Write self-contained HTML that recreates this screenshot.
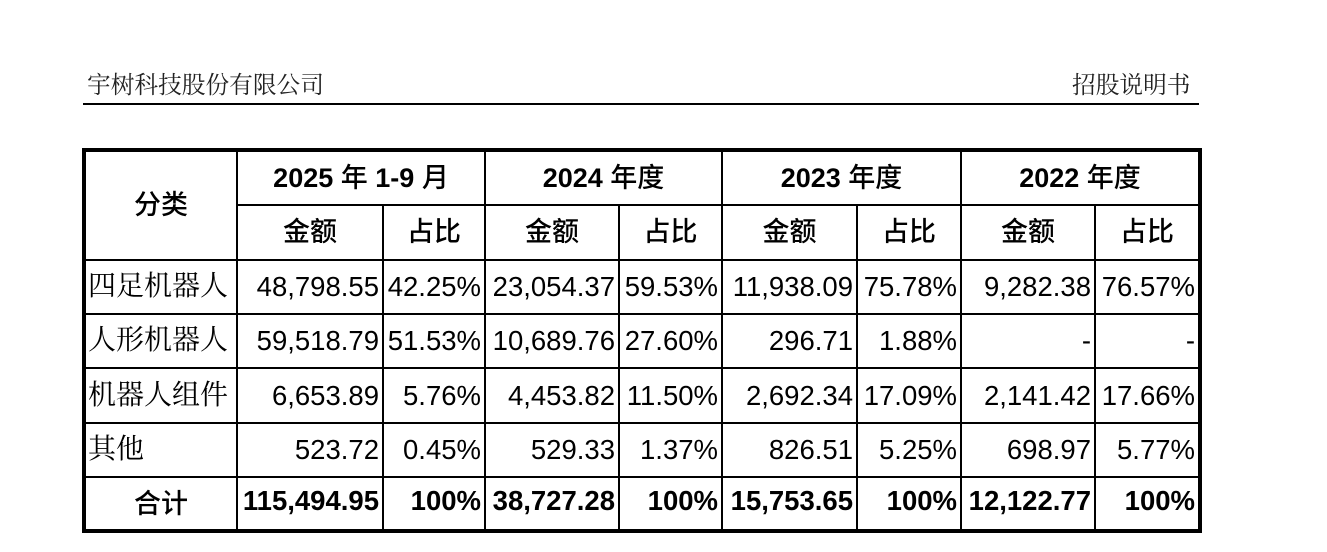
<!DOCTYPE html>
<html>
<head>
<meta charset="utf-8">
<style>
html,body{margin:0;padding:0;background:#fff;}
body{width:1327px;height:552px;position:relative;overflow:hidden;}
.ln{position:absolute;background:#000;}
.c{position:absolute;display:flex;align-items:center;box-sizing:border-box;white-space:nowrap;line-height:1;color:#000;}
.num{font-family:"Liberation Sans",Arial,sans-serif;font-size:27.5px;justify-content:flex-end;padding-right:3px;}
.b{font-weight:bold;}
.lab{font-family:"Liberation Serif","Noto Serif CJK SC",serif;font-size:28px;justify-content:flex-start;padding-left:2px;}
.hd{font-family:"Liberation Sans","Noto Sans CJK SC",sans-serif;font-size:27px;justify-content:center;}
.hd b{font-weight:bold;}
.hd span{font-weight:500;}
.top{position:absolute;font-family:"Liberation Serif","Noto Serif CJK SC",serif;font-size:23.7px;color:#222;line-height:1;white-space:nowrap;}
</style>
</head>
<body>
<div class="top" style="left:87px;top:75px;">宇树科技股份有限公司</div>
<div class="top" style="left:1072px;top:75px;">招股说明书</div>
<div class="ln" style="left:83px;top:102.5px;width:1116px;height:2px;"></div>

<!-- outer border -->
<div class="ln" style="left:82px;top:148px;width:1120px;height:4px;"></div>
<div class="ln" style="left:82px;top:529px;width:1120px;height:4px;"></div>
<div class="ln" style="left:82px;top:148px;width:4px;height:385px;"></div>
<div class="ln" style="left:1198px;top:148px;width:4px;height:385px;"></div>

<!-- horizontal lines -->
<div class="ln" style="left:237px;top:204px;width:961px;height:2px;"></div>
<div class="ln" style="left:86px;top:258.5px;width:1112px;height:2px;"></div>
<div class="ln" style="left:86px;top:313px;width:1112px;height:2px;"></div>
<div class="ln" style="left:86px;top:367px;width:1112px;height:2px;"></div>
<div class="ln" style="left:86px;top:422px;width:1112px;height:2px;"></div>
<div class="ln" style="left:86px;top:476px;width:1112px;height:2px;"></div>

<!-- vertical lines -->
<div class="ln" style="left:236px;top:152px;width:2px;height:377px;"></div>
<div class="ln" style="left:484px;top:152px;width:2px;height:377px;"></div>
<div class="ln" style="left:721px;top:152px;width:2px;height:377px;"></div>
<div class="ln" style="left:960px;top:152px;width:2px;height:377px;"></div>
<div class="ln" style="left:382px;top:205px;width:2px;height:324px;"></div>
<div class="ln" style="left:618px;top:205px;width:2px;height:324px;"></div>
<div class="ln" style="left:856px;top:205px;width:2px;height:324px;"></div>
<div class="ln" style="left:1094px;top:205px;width:2px;height:324px;"></div>

<!-- header -->
<div class="c hd" style="left:86px;top:152px;width:150px;height:107px;"><span>分类</span></div>
<div class="c hd" style="left:238px;top:152px;width:246px;height:52px;"><b>2025</b>&nbsp;<span>年</span>&nbsp;<b>1-9</b>&nbsp;<span>月</span></div>
<div class="c hd" style="left:486px;top:152px;width:235px;height:52px;"><b>2024</b>&nbsp;<span>年度</span></div>
<div class="c hd" style="left:723px;top:152px;width:237px;height:52px;"><b>2023</b>&nbsp;<span>年度</span></div>
<div class="c hd" style="left:962px;top:152px;width:236px;height:52px;"><b>2022</b>&nbsp;<span>年度</span></div>

<div class="c hd" style="left:238px;top:206px;width:144px;height:53px;"><span>金额</span></div>
<div class="c hd" style="left:384px;top:206px;width:100px;height:53px;"><span>占比</span></div>
<div class="c hd" style="left:486px;top:206px;width:132px;height:53px;"><span>金额</span></div>
<div class="c hd" style="left:620px;top:206px;width:101px;height:53px;"><span>占比</span></div>
<div class="c hd" style="left:723px;top:206px;width:133px;height:53px;"><span>金额</span></div>
<div class="c hd" style="left:858px;top:206px;width:102px;height:53px;"><span>占比</span></div>
<div class="c hd" style="left:962px;top:206px;width:132px;height:53px;"><span>金额</span></div>
<div class="c hd" style="left:1096px;top:206px;width:102px;height:53px;"><span>占比</span></div>

<!-- row 1 -->
<div class="c lab" style="left:86px;top:260px;width:150px;height:53px;">四足机器人</div>
<div class="c num" style="left:238px;top:260px;width:144px;height:53px;">48,798.55</div>
<div class="c num" style="left:384px;top:260px;width:100px;height:53px;">42.25%</div>
<div class="c num" style="left:486px;top:260px;width:132px;height:53px;">23,054.37</div>
<div class="c num" style="left:620px;top:260px;width:101px;height:53px;">59.53%</div>
<div class="c num" style="left:723px;top:260px;width:133px;height:53px;">11,938.09</div>
<div class="c num" style="left:858px;top:260px;width:102px;height:53px;">75.78%</div>
<div class="c num" style="left:962px;top:260px;width:132px;height:53px;">9,282.38</div>
<div class="c num" style="left:1096px;top:260px;width:102px;height:53px;">76.57%</div>

<!-- row 2 -->
<div class="c lab" style="left:86px;top:315px;width:150px;height:52px;">人形机器人</div>
<div class="c num" style="left:238px;top:315px;width:144px;height:52px;">59,518.79</div>
<div class="c num" style="left:384px;top:315px;width:100px;height:52px;">51.53%</div>
<div class="c num" style="left:486px;top:315px;width:132px;height:52px;">10,689.76</div>
<div class="c num" style="left:620px;top:315px;width:101px;height:52px;">27.60%</div>
<div class="c num" style="left:723px;top:315px;width:133px;height:52px;">296.71</div>
<div class="c num" style="left:858px;top:315px;width:102px;height:52px;">1.88%</div>
<div class="c num" style="left:962px;top:315px;width:132px;height:52px;">-</div>
<div class="c num" style="left:1096px;top:315px;width:102px;height:52px;">-</div>

<!-- row 3 -->
<div class="c lab" style="left:86px;top:369px;width:150px;height:53px;">机器人组件</div>
<div class="c num" style="left:238px;top:369px;width:144px;height:53px;">6,653.89</div>
<div class="c num" style="left:384px;top:369px;width:100px;height:53px;">5.76%</div>
<div class="c num" style="left:486px;top:369px;width:132px;height:53px;">4,453.82</div>
<div class="c num" style="left:620px;top:369px;width:101px;height:53px;">11.50%</div>
<div class="c num" style="left:723px;top:369px;width:133px;height:53px;">2,692.34</div>
<div class="c num" style="left:858px;top:369px;width:102px;height:53px;">17.09%</div>
<div class="c num" style="left:962px;top:369px;width:132px;height:53px;">2,141.42</div>
<div class="c num" style="left:1096px;top:369px;width:102px;height:53px;">17.66%</div>

<!-- row 4 -->
<div class="c lab" style="left:86px;top:424px;width:150px;height:52px;">其他</div>
<div class="c num" style="left:238px;top:424px;width:144px;height:52px;">523.72</div>
<div class="c num" style="left:384px;top:424px;width:100px;height:52px;">0.45%</div>
<div class="c num" style="left:486px;top:424px;width:132px;height:52px;">529.33</div>
<div class="c num" style="left:620px;top:424px;width:101px;height:52px;">1.37%</div>
<div class="c num" style="left:723px;top:424px;width:133px;height:52px;">826.51</div>
<div class="c num" style="left:858px;top:424px;width:102px;height:52px;">5.25%</div>
<div class="c num" style="left:962px;top:424px;width:132px;height:52px;">698.97</div>
<div class="c num" style="left:1096px;top:424px;width:102px;height:52px;">5.77%</div>

<!-- total -->
<div class="c hd" style="left:86px;top:478px;width:150px;height:52px;"><span>合计</span></div>
<div class="c num b" style="left:238px;top:478px;width:144px;height:45px;">115,494.95</div>
<div class="c num b" style="left:384px;top:478px;width:100px;height:45px;">100%</div>
<div class="c num b" style="left:486px;top:478px;width:132px;height:45px;">38,727.28</div>
<div class="c num b" style="left:620px;top:478px;width:101px;height:45px;">100%</div>
<div class="c num b" style="left:723px;top:478px;width:133px;height:45px;">15,753.65</div>
<div class="c num b" style="left:858px;top:478px;width:102px;height:45px;">100%</div>
<div class="c num b" style="left:962px;top:478px;width:132px;height:45px;">12,122.77</div>
<div class="c num b" style="left:1096px;top:478px;width:102px;height:45px;">100%</div>
</body>
</html>
